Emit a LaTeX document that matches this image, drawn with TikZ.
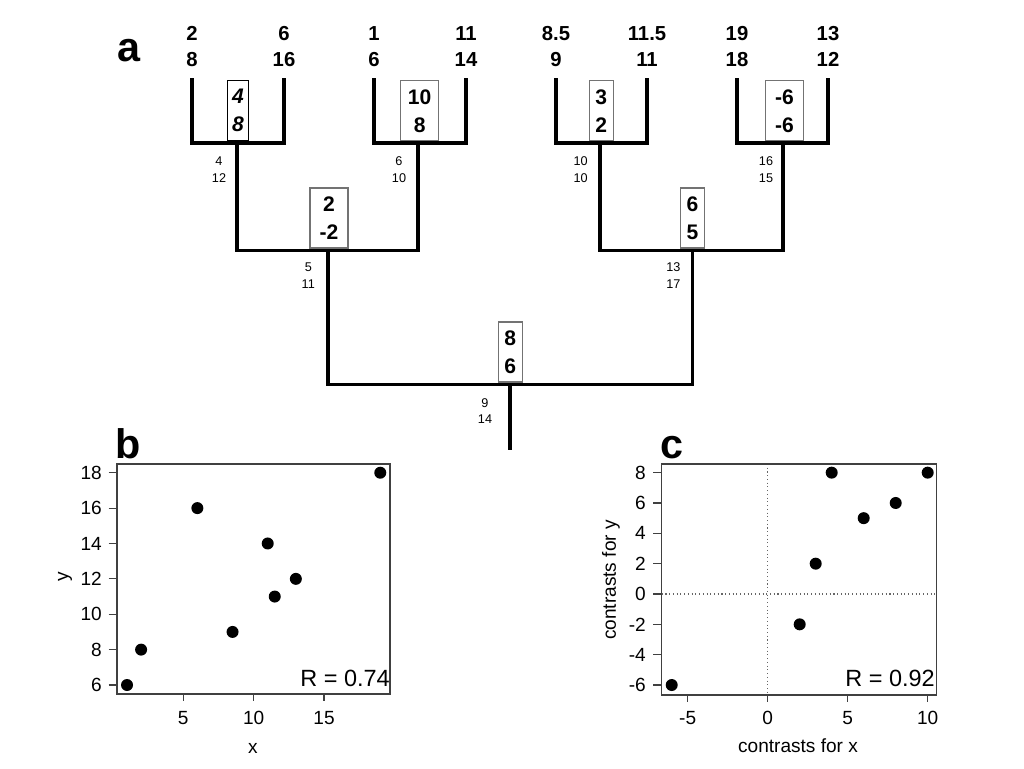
\documentclass[tikz,border=0pt]{standalone}
\usepackage{fontspec}
\setmainfont{Liberation Sans}
\begin{document}
\begin{tikzpicture}[x=0.75pt,y=-0.75pt,
  branch/.style={line width=2.3pt, line join=miter, black},
  leaf/.style={font=\fontsize{15.2}{20}\selectfont\bfseries, anchor=base, inner sep=0pt},
  cbox/.style={draw=black!55, line width=0.8pt, fill=white, font=\fontsize{15.8}{21}\selectfont\bfseries, align=center, minimum height=45pt, minimum width=18pt, inner xsep=0pt, inner ysep=0pt, anchor=south},
  wide/.style={minimum width=28.5pt},
  small/.style={font=\fontsize{9.5}{12.3}\selectfont, align=center, inner sep=0pt},
  panel/.style={font=\fontsize{31}{31}\selectfont\bfseries, anchor=base, inner sep=0pt},
  frame/.style={draw=black!75, line width=0.9pt},
  tick/.style={draw=black!75, line width=0.9pt},
  ticklab/.style={font=\fontsize{14.3}{16}\selectfont, inner sep=0pt},
  rlab/.style={font=\fontsize{17.6}{20}\selectfont, inner sep=0pt, anchor=east},
  dot/.style={fill=black},
  zeroline/.style={draw=black!60, line width=0.8pt, dotted}]
\useasboundingbox (0,0) rectangle (1024,768);

% ---------------- panel a: tree ----------------
\node[panel] (pa) at (128.7,61.5) {a};

\coordinate (l1) at (192,78);
\coordinate (l2) at (284,78);
\coordinate (l3) at (374,78);
\coordinate (l4) at (466,78);
\coordinate (l5) at (556,78);
\coordinate (l6) at (647,78);
\coordinate (l7) at (737,78);
\coordinate (l8) at (828,78);
\coordinate (n12) at (237,143);
\coordinate (n34) at (418,143);
\coordinate (n56) at (600,143);
\coordinate (n78) at (783,143);
\coordinate (n1234) at (328,250.5);
\coordinate (n5678) at (692.5,250.5);
\coordinate (root) at (510,384.5);
\coordinate (rootend) at (510,450);

\draw[branch] (l1) |- (n12) -| (l2);
\draw[branch] (l3) |- (n34) -| (l4);
\draw[branch] (l5) |- (n56) -| (l6);
\draw[branch] (l7) |- (n78) -| (l8);
\draw[branch] (n12) |- (n1234) -| (n34);
\draw[branch] (n56) |- (n5678) -| (n78);
\draw[branch] (n1234) |- (root) -| (n5678);
\draw[branch] (root) -- (rootend);

% leaf values (x on top, y below)
\foreach \nm/\px/\xv/\yv in {t1/192/2/8, t2/284/6/16, t3/374/1/6, t4/466/11/14,
                             t5/556/8.5/9, t6/647/11.5/11, t7/737/19/18, t8/828/13/12} {
  \node[leaf] (\nm x) at (\px,40) {\xv};
  \node[leaf] (\nm y) at (\px,66.7) {\yv};
}

% contrast boxes
\node[cbox, draw=black, font=\fontsize{15.8}{21}\selectfont\bfseries\itshape, minimum width=16pt] (c12) at (238,141.3) {4\\8};
\node[cbox, wide] (c34) at (419.7,141.3) {10\\8};
\node[cbox] (c56) at (601.3,141.3) {3\\2};
\node[cbox, wide] (c78) at (784.5,141.3) {-6\\-6};
\node[cbox, wide] (c1234) at (329,248.5) {2\\-2};
\node[cbox] (c5678) at (692.5,248.5) {6\\5};
\node[cbox] (croot) at (510.3,382.5) {8\\6};

% ancestral values
\node[small] (a12) at (219,169.7) {4\\12};
\node[small] (a34) at (399,169.7) {6\\10};
\node[small] (a56) at (580.7,169.7) {10\\10};
\node[small] (a78) at (766,169.7) {16\\15};
\node[small] (a1234) at (308.3,275.7) {5\\11};
\node[small] (a5678) at (673.3,275.7) {13\\17};
\node[small] (aroot) at (485,411.3) {9\\14};

% ---------------- panel b ----------------
\node[panel] (pb) at (128,458) {b};
\draw[frame] (117,464) rectangle (390,694);
\foreach \v in {6,8,...,18} {
  \pgfmathsetmacro{\py}{685-17.69*(\v-6)}
  \draw[tick] (108.5,\py) -- (117,\py);
  \node[ticklab, anchor=east] at (102,\py) {\v};
}
\foreach \v in {5,10,15} {
  \pgfmathsetmacro{\px}{112.95+14.07*\v}
  \draw[tick] (\px,694) -- (\px,701);
  \node[ticklab] at (\px,718) {\v};
}
\node[ticklab] (bx) at (253,748) {x};
\node[ticklab, rotate=90] (by) at (65,577) {y};
\begin{scope}[shift={(112.95,791.14)}, x=10.5525pt, y=13.2675pt]
  \foreach \a/\b in {2/8, 6/16, 1/6, 11/14, 8.5/9, 11.5/11, 19/18, 13/12}
    \fill[dot] (\a,\b) circle (4.5pt);
\end{scope}
\node[rlab] (rb) at (390,678) {R = 0.74};

% ---------------- panel c ----------------
\node[panel] (pc) at (672,458) {c};
\draw[zeroline] (767.7,464) -- (767.7,695);
\draw[zeroline] (661.7,594) -- (936.7,594);
\draw[frame] (661.7,464) rectangle (936.7,695);
\foreach \v in {-6,-4,...,8} {
  \pgfmathsetmacro{\py}{594-15.17*\v}
  \draw[tick] (653,\py) -- (661.7,\py);
  \node[ticklab, anchor=east] at (646,\py) {\v};
}
\foreach \v in {-5,0,5,10} {
  \pgfmathsetmacro{\px}{767.7+16*\v}
  \draw[tick] (\px,695) -- (\px,702);
  \node[ticklab] at (\px,718) {\v};
}
\node[ticklab] (cx) at (798,746) {contrasts for x};
\node[ticklab, rotate=90] (cy) at (611,580) {contrasts for y};
\begin{scope}[shift={(767.7,594)}, x=12pt, y=11.3775pt]
  \foreach \a/\b in {-6/-6, 2/-2, 3/2, 4/8, 6/5, 8/6, 10/8}
    \fill[dot] (\a,\b) circle (4.5pt);
\end{scope}
\node[rlab] (rc) at (935,678) {R = 0.92};
\end{tikzpicture}
\end{document}
